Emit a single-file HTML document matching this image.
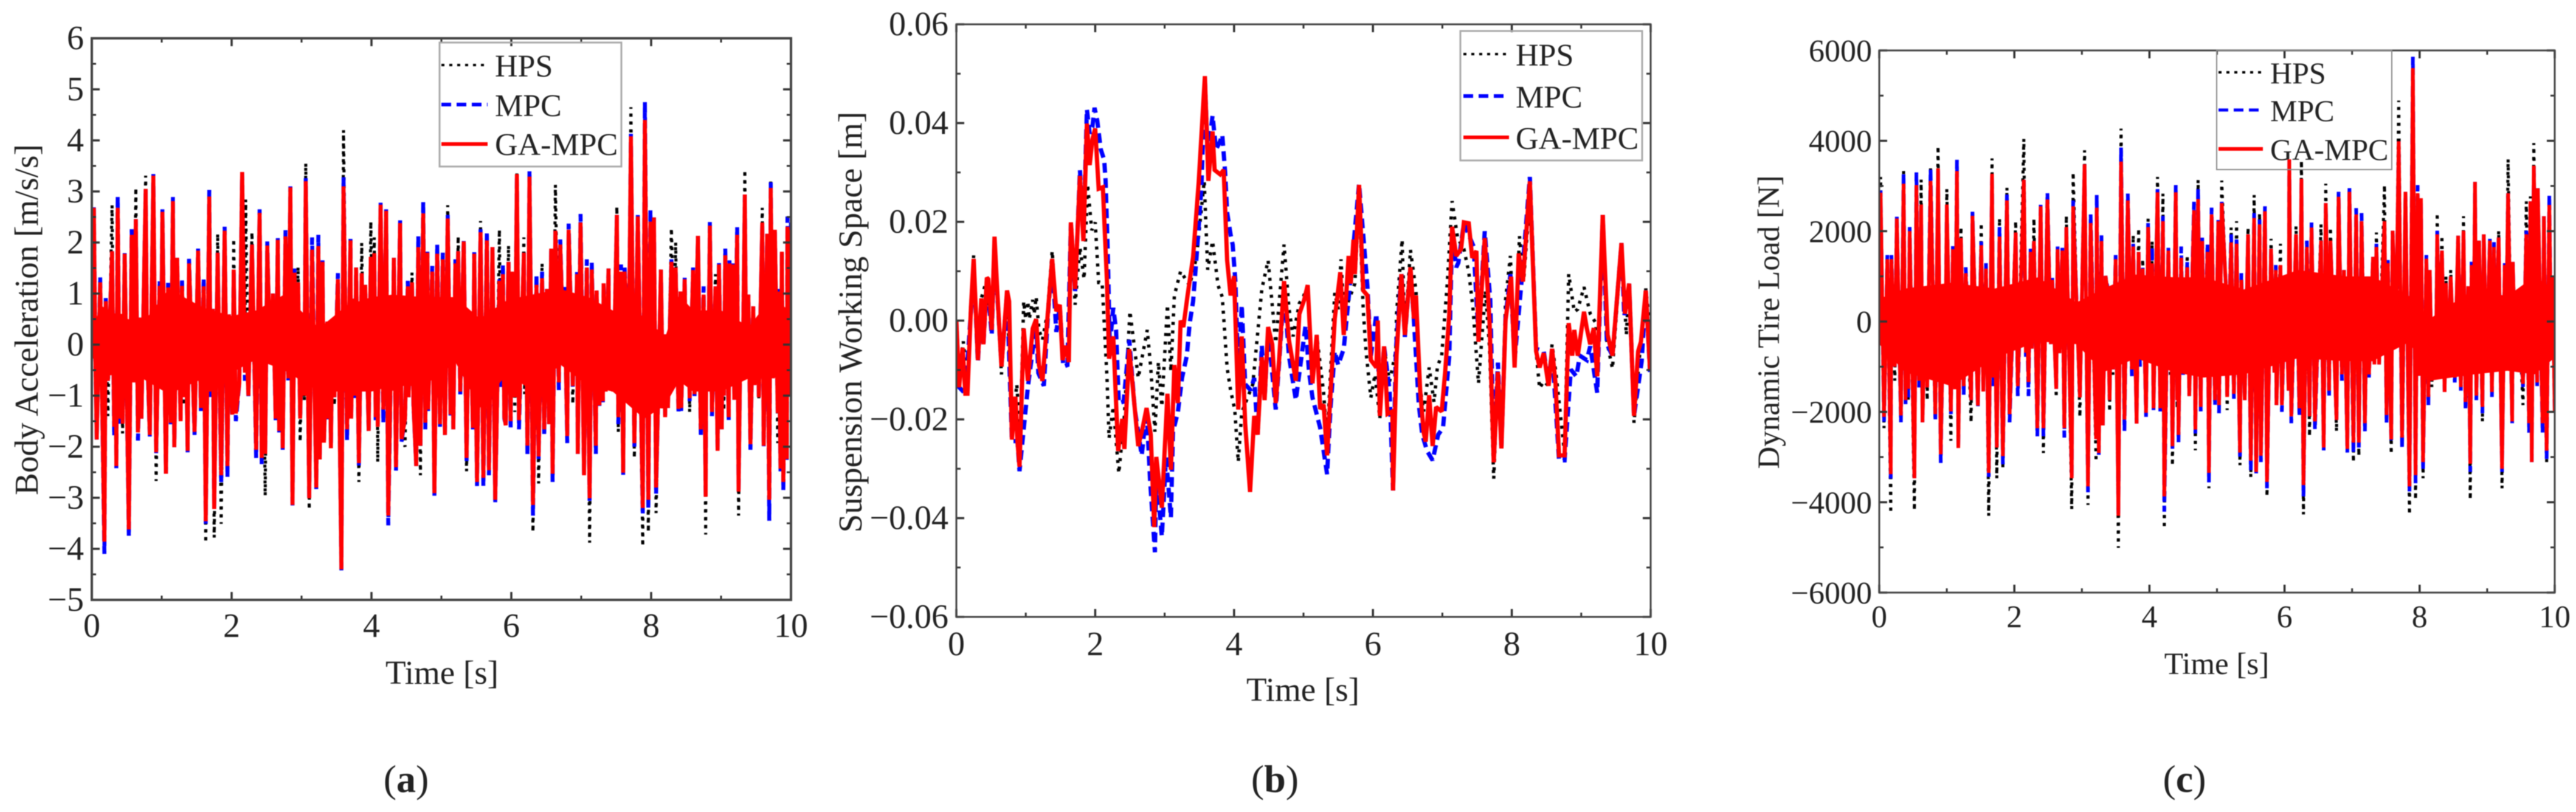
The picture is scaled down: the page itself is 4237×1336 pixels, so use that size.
<!DOCTYPE html>
<html lang="en">
<head>
<meta charset="utf-8">
<title>Body acceleration, suspension working space and dynamic tire load</title>
<style>
html,body{margin:0;padding:0;background:#fff;width:4237px;height:1336px;overflow:hidden}
svg{display:block;filter:blur(0.9px)}
text{font-family:"Liberation Serif",serif;fill:#222}
.tick{font-size:56px}
.tickc{font-size:52px}
.title{font-size:55px}
.titlec{font-size:51px}
.leg{font-size:52px}
.legc{font-size:50px}
.cap{font-size:64px}
</style>
</head>
<body>
<svg id="figure" xmlns="http://www.w3.org/2000/svg" width="4237" height="1336" viewBox="0 0 4237 1336">
<rect width="4237" height="1336" fill="#fff"/>
<defs>
<clipPath id="clipA"><rect x="151" y="63" width="1150" height="924"/></clipPath>
<clipPath id="clipB"><rect x="1573" y="40" width="1142" height="975"/></clipPath>
<clipPath id="clipC"><rect x="3091" y="83" width="1111" height="892"/></clipPath>
</defs>

<g id="panelA"></g>
<g id="panelB"></g>
<g id="panelC"></g>

<text class="title" text-anchor="middle" transform="translate(62 526) rotate(-90)">Body Acceleration [m/s/s]</text>
<text class="title" text-anchor="middle" x="727" y="1125">Time [s]</text>
<text class="cap" text-anchor="middle" x="668" y="1303">(<tspan font-weight="bold">a</tspan>)</text>

<text class="title" text-anchor="middle" transform="translate(1417 530) rotate(-90)">Suspension Working Space [m]</text>
<text class="title" text-anchor="middle" x="2143" y="1153">Time [s]</text>
<text class="cap" text-anchor="middle" x="2097" y="1303">(<tspan font-weight="bold">b</tspan>)</text>

<text class="titlec" text-anchor="middle" transform="translate(2926 530) rotate(-90)">Dynamic Tire Load [N]</text>
<text class="titlec" text-anchor="middle" x="3646" y="1109">Time [s]</text>
<text class="cap" text-anchor="middle" x="3593" y="1303">(<tspan font-weight="bold">c</tspan>)</text>

<g>
<rect x="723" y="70" width="299" height="204" fill="none" stroke="#aaa" stroke-width="3"/>
<line x1="726" x2="802" y1="107" y2="107" stroke="#000" stroke-width="4" stroke-dasharray="5 8"/>
<line x1="726" x2="802" y1="172" y2="172" stroke="#00f" stroke-width="6" stroke-dasharray="16 9"/>
<line x1="726" x2="802" y1="237" y2="237" stroke="#f00" stroke-width="6"/>
<text class="leg" x="814" y="126">HPS</text>
<text class="leg" x="814" y="191">MPC</text>
<text class="leg" x="814" y="255">GA-MPC</text>
</g>
<g>
<rect x="2402" y="51" width="299" height="213" fill="none" stroke="#aaa" stroke-width="3"/>
<line x1="2407" x2="2482" y1="89" y2="89" stroke="#000" stroke-width="4" stroke-dasharray="5 8"/>
<line x1="2407" x2="2482" y1="158" y2="158" stroke="#00f" stroke-width="6" stroke-dasharray="16 9"/>
<line x1="2407" x2="2482" y1="226" y2="226" stroke="#f00" stroke-width="6"/>
<text class="leg" x="2493" y="108">HPS</text>
<text class="leg" x="2493" y="177">MPC</text>
<text class="leg" x="2493" y="245">GA-MPC</text>
</g>

<g id="legendC">
<rect x="3646" y="83" width="288" height="196" fill="none" stroke="#888" stroke-width="2"/>
<line x1="3649" x2="3722" y1="119" y2="119" stroke="#000" stroke-width="4" stroke-dasharray="5 8"/>
<line x1="3649" x2="3722" y1="181" y2="181" stroke="#00f" stroke-width="5" stroke-dasharray="16 9"/>
<line x1="3649" x2="3722" y1="245" y2="245" stroke="#f00" stroke-width="6"/>
<text class="legc" x="3734" y="137">HPS</text>
<text class="legc" x="3734" y="199">MPC</text>
<text class="legc" x="3734" y="263">GA-MPC</text>
</g>
</svg>

<script>
/* ---------- Panel (a): body acceleration, m/s/s ---------- */
const timeA = [
0,.03,.05,.07,.12,.18,.20,.23,.29,.32,
.34,.35,.37,.40,.42,.44,.47,.53,.57,.60,
.63,.66,.70,.71,.77,.79,.83,.88,.92,.97,
.99,1.01,1.06,1.09,1.13,1.16,1.18,1.22,1.27,1.29,
1.32,1.34,1.37,1.39,1.44,1.47,1.52,1.56,1.60,1.63,
1.68,1.70,1.73,1.75,1.80,1.85,1.90,1.94,1.96,2.01,
2.03,2.06,2.11,2.15,2.19,2.20,2.24,2.29,2.35,2.40,
2.43,2.45,2.48,2.51,2.55,2.59,2.63,2.66,2.68,2.71,
2.73,2.77,2.81,2.84,2.87,2.90,2.92,2.95,2.98,3.01,
3.04,3.06,3.11,3.15,3.21,3.24,3.26,3.30,3.32,3.37,
3.38,3.40,3.42,3.44,3.47,3.52,3.57,3.60,3.65,3.70,
3.71,3.74,3.76,3.78,3.82,3.86,3.89,3.91,3.96,3.99,
4.02,4.04,4.06,4.08,4.09,4.13,4.17,4.21,4.24,4.29,
4.30,4.32,4.35,4.41,4.43,4.48,4.52,4.53,4.58,4.60,
4.64,4.67,4.70,4.74,4.77,4.80,4.81,4.87,4.90,4.94,
4.98,5.02,5.05,5.09,5.13,5.15,5.17,5.20,5.22,5.24,
5.27,5.32,5.36,5.39,5.41,5.42,5.45,5.47,5.51,5.56,
5.60,5.65,5.68,5.73,5.77,5.83,5.85,5.88,5.90,5.92,
5.96,5.99,6.01,6.05,6.08,6.11,6.18,6.19,6.21,6.23,
6.26,6.31,6.36,6.39,6.44,6.47,6.51,6.54,6.57,6.59,
6.63,6.68,6.70,6.75,6.76,6.80,6.82,6.88,6.90,6.92,
6.94,6.95,6.99,7.04,7.08,7.12,7.15,7.21,7.22,7.26,
7.28,7.31,7.32,7.35,7.39,7.40,7.44,7.46,7.51,7.53,
7.57,7.60,7.62,7.68,7.71,7.76,7.81,7.88,7.91,7.96,
7.99,8.02,8.04,8.07,8.14,8.17,8.19,8.20,8.22,8.24,
8.29,8.33,8.35,8.39,8.42,8.43,8.48,8.50,8.54,8.55,
8.60,8.62,8.67,8.71,8.75,8.78,8.79,8.82,8.84,8.87,
8.92,8.95,8.97,9.01,9.02,9.04,9.06,9.11,9.12,9.15,
9.17,9.19,9.23,9.25,9.28,9.31,9.34,9.36,9.39,9.42,
9.46,9.48,9.53,9.54,9.59,9.61,9.66,9.68,9.69,9.71,
9.74,9.77,9.81,9.82,9.85,9.87,9.89,9.92,9.94,9.95,
9.99,10];
const gaA = [
0,2.68,-.23,-1.86,1.22,-3.86,.85,-.71,1.83,-1.61,
.3,-2.38,2.68,-1.45,.6,-1.55,1.78,-3.62,2.15,-.74,
2.46,-1.72,.53,-1.45,3.05,0,-1.77,3.31,-2.11,1.15,
-.3,2.6,-2.53,1.12,-1.53,2.81,-2.01,1.7,-1.5,1.15,
-1.03,.7,-2.08,1.59,-.4,-1.71,1.84,-1.24,1.14,-3.46,
2.9,-.92,.7,-3.22,1.8,-2.56,2.23,-2.38,.59,-1.37,
1.47,-1.35,-.76,3.38,-.55,.4,-1,1.96,-2.06,2.58,
-2.22,.6,-2.14,1.94,-.29,1,-1.45,2.05,-1.69,.8,
-2.03,2.12,-.66,3.08,-3.14,1.41,-.3,1.22,-1.45,.15,
-1,3.2,-3.01,1.86,-2.8,1.93,-2.25,1.62,-1.92,.45,
-1.45,.4,-2.03,.15,-1.03,1.28,-4.4,3.1,-1.66,2.04,
-1.45,.9,-1,1.51,-2.32,1.4,-.44,1.17,-1.69,1.72,
-.1,1.79,-1.42,.2,-1.61,2.74,-1.27,2.62,-3.35,.5,
-.9,1.7,-2.4,2.38,-1.85,-1.45,1.14,-1.03,1.22,-1.16,
-2.38,1.91,-1.98,2.57,-1.53,1.8,-1.27,1.43,-2.91,1.78,
-1.56,1.67,-1.77,2.47,-1.37,.9,-1.66,1.59,-.31,1.83,
-.92,2.02,-2.22,.46,-.3,.4,-1.63,1.78,-2.69,2.2,
-2.61,2.04,-2.46,1.91,-3.04,1.25,-.66,1.38,-1.42,-1.58,
1.62,-1.5,1.43,-1.03,3.34,-1.48,1.8,-.6,.9,-1.98,
3.29,-3.14,1.17,-2.19,1.3,-1.66,1.09,-1.56,1.88,-2.53,
2.23,-.74,1.96,-.34,1.06,-1.79,2.25,-.81,.77,-.2,
1.38,-2.14,2.39,-2.56,1.51,-3.01,1.47,-1.98,1.06,-1.19,
.75,-1.11,1.2,-.92,1.49,-.55,.6,-.92,2.54,-1.42,
1.43,-2.51,1.43,-.18,4.08,-1.93,2.51,-3.2,4.4,-3.04,
2.41,-.5,2.49,-2.8,1.47,-1.25,.2,-1.42,.05,-1.24,
1.62,.08,1.51,-1.26,1.04,-1.24,1.28,-.76,.53,-1.05,
1.46,-.97,2.13,-1.66,.98,-2.98,.61,-.3,2.33,-1.32,
1.14,-2.08,1.57,-1.66,.4,-1,1.75,-1.42,1.59,-.6,
1.57,-1.08,2.15,-2.88,.4,-.5,2.94,-.52,.98,-1.95,
.75,-.79,.38,-1.03,2.39,-1.98,2.17,-1.71,-3.04,3.07,
-.66,2.25,-1.34,1.04,-2.43,1.82,-2.69,.5,-2.24,2.31,
-1,2.25];
const mpcA = [
0,2.73,-.23,-1.86,1.33,-4.1,.93,-.71,1.83,-1.79,
.3,-2.42,2.89,-1.55,.6,-1.55,1.81,-3.76,2.26,-.74,
2.46,-1.88,.53,-1.45,3.05,-.1,-1.8,3.34,-2.14,1.26,
-.3,2.65,-2.53,1.21,-1.56,2.89,-2.01,1.7,-1.5,1.3,
-1.03,.7,-2.11,1.68,-.4,-1.77,1.88,-1.3,1.3,-3.51,
3.03,-1.03,.7,-3.22,1.8,-2.74,2.31,-2.59,.59,-1.37,
1.47,-1.5,-.76,3.38,-.71,.4,-1.01,1.96,-2.22,2.65,
-2.34,.6,-2.14,2.02,-.34,1,-1.48,2.12,-1.72,.8,
-2.06,2.24,-.7,3.1,-3.15,1.49,-.3,1.22,-1.45,.15,
-1,3.26,-3.04,2.1,-2.83,2.15,-2.25,1.65,-1.92,.45,
-1.48,.4,-2.03,.15,-1.03,1.4,-4.42,3.28,-1.87,2.07,
-1.45,.9,-1.08,1.51,-2.4,1.4,-.63,1.17,-1.72,1.72,
-.1,1.79,-1.48,.2,-1.63,2.78,-1.53,2.65,-3.54,.5,
-.9,1.7,-2.48,2.46,-1.9,-1.45,1.25,-1.03,1.22,-1.19,
-2.38,2.12,-1.98,2.79,-1.66,1.82,-1.3,1.54,-2.96,1.96,
-1.61,1.8,-1.77,2.54,-1.42,.9,-1.66,1.67,-.31,1.83,
-1.02,2.06,-2.31,.53,-.3,.48,-1.66,1.81,-2.77,2.26,
-2.77,2.21,-2.56,1.91,-3.12,1.28,-.84,1.57,-1.45,-1.58,
1.62,-1.66,1.43,-1.03,3.34,-1.66,1.8,-.6,.9,-2.16,
3.41,-3.35,1.38,-2.24,1.43,-1.79,1.09,-1.56,1.88,-2.69,
2.23,-.89,2.06,-.34,1.13,-1.93,2.37,-.87,.77,-.2,
1.42,-2.14,2.56,-2.56,1.67,-3.09,1.61,-2.14,1.06,-1.24,
.75,-1.13,1.21,-.92,1.49,-.55,.6,-.92,2.54,-1.56,
1.57,-2.55,1.54,-.31,4.13,-2,2.58,-3.33,4.75,-3.22,
2.63,-.5,2.49,-2.93,1.47,-1.25,.2,-1.42,.03,-1.24,
1.67,-.05,1.51,-1.34,1.04,-1.3,1.31,-.76,.59,-1.11,
1.51,-1.05,2.13,-1.81,1.14,-3.01,.69,-.3,2.42,-1.4,
1.14,-2.11,1.63,-1.66,.4,-1,1.88,-1.5,1.65,-.6,
1.59,-1.08,2.3,-2.9,.4,-.5,2.94,-.52,.98,-2.06,
.75,-.79,.38,-1.03,2.39,-2,2.17,-1.9,-3.45,3.18,
-.66,2.25,-1.34,1.09,-2.51,1.82,-2.85,.5,-2.3,2.51,
-1,2.45];
const hpsA = [
0,2.6,-.2,-1.7,1.2,-3.7,.8,-1.4,2.73,-1.6,
.3,-2.2,2.6,-1.4,.6,-1.74,1.7,-3.5,2.1,-.7,
3.07,-1.6,.5,-1.4,3.31,0,-1.7,3.2,-2.67,1.1,
-.3,2.5,-2.4,1.1,-1.5,2.7,-1.9,1.6,-1.4,1.1,
-1.19,.7,-2,1.5,-.4,-1.7,1.8,-1.2,1.1,-3.88,
2.8,-.9,.7,-3.78,2.17,-3.51,2.1,-2.3,.6,-1.3,
2.07,-1.3,-.7,3.3,-.5,2.84,-.9,2.2,-2,2.5,
-2.1,.6,-2.96,1.9,-.3,1,-1.4,2,-1.6,.8,
-2,2.1,-.6,3,-3,1.4,-.3,1.52,-1.9,.15,
-1.1,3.55,-3.23,1.8,-2.7,1.9,-2.2,1.6,-1.9,.45,
-1.4,.4,-2,.15,-1.19,1.2,-4.42,4.2,-1.6,2,
-1.4,.9,-1,1.5,-2.69,1.99,-.4,1.1,-1.6,2.41,
-.1,2.1,-1.4,.2,-2.3,2.7,-1.2,2.6,-3.3,.5,
-.9,1.6,-2.3,2.3,-1.8,-2,1.1,-1,1.41,-1.1,
-2.3,1.9,-2.56,2.5,-1.5,1.7,-1.2,1.4,-2.9,1.7,
-1.5,1.67,-1.7,2.73,-1.3,.9,-1.6,1.5,-.3,2.12,
-.9,2,-2.48,.4,-.3,.4,-1.6,1.7,-2.6,2.42,
-2.5,2,-2.4,1.9,-3,2.25,-.6,1.3,-1.4,-1.5,
1.94,-1.4,1.4,-1.32,3.39,-1.4,2.1,-.97,.9,-1.9,
3.2,-3.67,1.1,-2.72,1.59,-1.6,1,-1.5,1.8,-2.5,
3.13,-.7,1.9,-.3,1,-1.7,2.2,-1.16,.7,-.2,
1.3,-2.1,2.3,-2.5,1.5,-3.88,1.4,-1.9,1,-1.1,
.7,-1.1,1.1,-.9,1.4,-.5,.6,-.9,2.7,-1.71,
1.4,-2.5,1.4,-.2,4.65,-2.22,2.5,-3.95,4.3,-3.67,
2.4,-.5,2.4,-3.3,1.4,-1.2,.2,-1.4,.05,-1.2,
2.28,.1,2,-1.2,1,-1.2,1.2,-.7,.5,-1.32,
1.4,-.9,2.1,-1.6,.9,-3.72,.6,-.3,2.3,-1.3,
1.38,-2,1.5,-1.6,.4,-1.29,1.7,-1.4,1.5,-.6,
1.5,-1,2.1,-3.35,.4,-.5,3.42,-.5,.9,-1.9,
.7,-.7,.3,-1.05,2.68,-2.03,2.1,-1.7,-3,3.23,
-.6,2.2,-1.93,1,-2.4,1.8,-2.6,.5,-2.2,2.3,
-1,2.2];
/* Solid high-frequency core of the GA-MPC trace, read as an envelope */
const coreTimeA = [0,.12,.4,.72,1.1,1.6,2.0,2.35,2.75,3.25,3.65,4.0,4.3,4.75,5.2,5.55,5.95,6.3,6.7,7.1,7.45,7.9,8.2,8.4,8.6,9.0,9.4,9.75,10];
const coreUpperA = [.2,.77,.56,.4,1.09,.72,.56,.67,.98,.32,.77,.93,.98,.93,.93,.51,.88,.98,1.09,.93,.67,.56,.14,.98,.67,.67,.35,.98,.6];
const coreLowerA = [-.2,-.66,-.55,-.66,-.97,-.66,-.55,-.29,-.5,-.92,-.92,-.92,-.81,-.81,-.34,-1.24,-.55,-.92,-.39,-.81,-.92,-1.45,-1.19,-.71,-.92,-.92,-.66,-.66,-.5];

/* ---------- Panel (b): suspension working space, values in mm ---------- */
const timeGaB = [0,.04,.09,.13,.16,.21,.25,.31,.36,.39,.44,.46,.51,.55,.59,.65,.73,.76,.80,.85,.88,.91,.97,1.03,1.10,1.15,1.19,1.24,1.32,1.38,1.44,1.49,1.53,1.58,1.62,1.65,1.71,1.78,1.83,1.88,1.92,1.96,2.00,2.05,2.11,2.17,2.20,2.26,2.33,2.39,2.42,2.49,2.62,2.68,2.74,2.80,2.85,2.88,2.96,3.04,3.09,3.14,3.19,3.23,3.27,3.33,3.41,3.49,3.58,3.63,3.69,3.72,3.80,3.85,3.90,3.95,4.00,4.06,4.11,4.16,4.23,4.29,4.34,4.40,4.44,4.49,4.55,4.60,4.65,4.72,4.79,4.89,4.94,5.01,5.06,5.13,5.19,5.24,5.29,5.34,5.39,5.45,5.53,5.58,5.65,5.68,5.72,5.74,5.80,5.86,5.92,5.97,6.05,6.07,6.10,6.16,6.21,6.28,6.29,6.34,6.41,6.46,6.54,6.59,6.62,6.68,6.73,6.76,6.81,6.86,6.91,6.99,7.04,7.10,7.14,7.20,7.27,7.31,7.38,7.43,7.49,7.52,7.61,7.68,7.74,7.80,7.85,7.91,7.99,8.04,8.10,8.16,8.26,8.35,8.40,8.46,8.53,8.58,8.63,8.68,8.76,8.82,8.87,8.90,8.95,9.04,9.08,9.13,9.18,9.23,9.31,9.38,9.45,9.58,9.63,9.69,9.76,9.82,9.86,9.93,9.99];
const gaMmB = [0,-13.5,-5.5,-14.8,-14.8,2.6,12.5,-8,4.5,-4.8,8.7,8.4,-1.9,17,5.8,-9.3,6.1,3.9,-24.1,-15.4,-24.4,-29.6,-1.6,-12.2,-1.6,.3,-9,-12.2,1.9,12.5,1.9,3.2,-8,-5.1,-8.4,19.9,6.4,29.3,16.1,39.9,31.5,36.7,38.9,26.7,27,7.7,-7.7,-3.2,-26.4,-19.9,-26,-5.8,-25.4,-21.9,-17.7,-23.1,-41.8,-27.6,-37.9,-14.8,-30.2,-9,-16.7,0,-1.3,5.1,12.9,28,49.5,28.3,38.3,30.5,29.6,30.5,12.2,5.1,9,-18,-3.2,-20.9,-34.7,-19.3,-23.1,-7.4,-16.1,-1.3,-4.8,-16.7,-7.7,8,-3.9,-12.2,1.3,4.2,7.2,-12.7,-2.9,-17.9,-17,-27.3,-14.6,.4,9.8,-2.9,13.1,7.5,16.4,9.4,27.5,6.1,5.1,-8,-9.5,0,-19.3,-5.2,-18.9,-18.4,-34.4,-7.1,9.4,-2.9,10.8,.4,5.1,-14.2,-22.6,-24.5,-15.1,-25.4,-17.5,-18.4,-10.4,1.4,19,13.1,14.5,19.9,19.7,12.7,14.1,-4.3,16.7,-.5,-28.7,-10.4,-25.9,0,8.9,-9.5,13.6,7.9,28.2,-6.2,-9.5,-6.6,-13.2,-5.7,-12.7,-27.3,-27.3,-.5,-7.1,-1.9,-7.1,1.8,-1.5,-4.8,-1.5,-11.3,21.4,-2.9,-7.1,15.7,1.4,7.5,-19.3,-6.2,-4.3,6.1,-9.9];
const timeMpcB = [0,.04,.13,.21,.25,.31,.36,.39,.44,.51,.55,.59,.65,.73,.80,.88,.91,1.03,1.15,1.18,1.26,1.32,1.38,1.44,1.49,1.54,1.60,1.65,1.71,1.78,1.83,1.88,1.92,1.96,1.99,2.03,2.08,2.13,2.15,2.18,2.21,2.26,2.30,2.34,2.41,2.49,2.57,2.67,2.74,2.79,2.86,2.88,2.96,3.02,3.09,3.12,3.19,3.25,3.32,3.36,3.41,3.46,3.53,3.58,3.62,3.69,3.74,3.79,3.83,3.87,3.90,3.95,3.98,4.02,4.06,4.11,4.16,4.24,4.29,4.34,4.40,4.44,4.49,4.60,4.65,4.72,4.79,4.89,5.03,5.08,5.13,5.24,5.34,5.39,5.45,5.50,5.58,5.66,5.80,5.92,5.97,6.05,6.10,6.16,6.24,6.29,6.33,6.41,6.46,6.54,6.59,6.66,6.71,6.78,6.86,6.94,7.01,7.10,7.14,7.20,7.23,7.31,7.45,7.52,7.61,7.69,7.74,7.80,7.85,7.91,7.98,8.04,8.14,8.26,8.35,8.46,8.53,8.58,8.68,8.76,8.85,8.93,8.98,9.08,9.13,9.23,9.31,9.37,9.45,9.58,9.62,9.69,9.76,9.87,9.93,9.99];
const mpcMmB = [-.6,-13.5,-14.8,1.9,11.6,-8.4,3.9,-5.1,8.4,-2.9,16.1,5.1,-9,5.8,-24.4,-24.4,-30.5,-13.5,-.6,-10.6,-13.2,1.3,12.2,-2.3,2.9,-9.3,-9,19.6,5.8,30.5,16.7,42.8,37.9,39.2,43.1,40.5,34.7,32.5,28.3,14.1,-5.1,2.6,-1.9,-16.7,-16.4,-3.9,-18,-27.3,-18,-32.2,-46.9,-30.9,-43.7,-27.6,-39.9,-22.5,-18.6,-11.6,-7.1,-.6,3.9,12.9,27,48.9,33.4,41.5,34.7,36,37.6,30.2,21.9,17.4,15.4,7.7,-11.6,3.2,-12.9,-14.1,-11.6,-23.1,-5.1,-16.1,-1.9,-18,-8.4,6.4,-7.1,-16.1,-1,-10.4,-15.6,-21.7,-31.1,-17.5,-6.2,-9,-5.7,6.1,27.7,7,-7.1,1.4,-17.5,-5.2,-14.2,-34.4,-6.2,9.8,-3.3,10.8,0,-17,-23.1,-26.4,-28.3,-23.1,-21.7,-7.1,17.8,10.8,11.7,19.7,15,-3.3,18.1,4.2,-26.9,-8.5,-25.9,.7,9.4,-8,7.9,29.1,-5.7,-6.2,-12.7,-5.7,-28.3,-28.3,-9.9,-11.3,-7.1,-8,-5.2,-14.6,21.4,-4.8,-7.1,15.7,.9,7.5,-19.3,-8.3,6.1,-10.4];
const timeHpsB = [0,.04,.10,.16,.21,.25,.31,.36,.44,.51,.55,.59,.65,.73,.80,.87,.92,.97,1.00,1.03,1.05,1.10,1.12,1.15,1.19,1.24,1.31,1.38,1.44,1.49,1.53,1.58,1.62,1.66,1.71,1.78,1.84,1.89,1.95,2.00,2.05,2.10,2.17,2.20,2.26,2.34,2.42,2.50,2.62,2.75,2.80,2.86,2.91,2.96,3.04,3.09,3.14,3.23,3.36,3.46,3.57,3.62,3.69,3.77,3.83,3.90,3.95,4.01,4.06,4.11,4.27,4.40,4.49,4.60,4.72,4.79,4.85,4.94,5.00,5.06,5.13,5.19,5.29,5.34,5.39,5.45,5.50,5.54,5.58,5.74,5.80,5.86,5.90,5.97,6.03,6.10,6.16,6.24,6.33,6.34,6.42,6.46,6.54,6.62,6.68,6.73,6.81,6.88,6.93,6.99,7.07,7.14,7.22,7.31,7.38,7.44,7.52,7.62,7.68,7.74,7.80,7.85,7.91,7.98,8.04,8.11,8.17,8.26,8.35,8.40,8.46,8.53,8.58,8.64,8.71,8.76,8.82,8.90,8.95,9.04,9.13,9.21,9.23,9.31,9.37,9.45,9.58,9.65,9.69,9.76,9.86,9.93,9.99];
const hpsMmB = [0,-11.6,-4.2,-12.9,3.9,13.2,-8,4.5,8.4,-1.9,16.7,5.1,-10.9,6.1,-23.1,-12.9,-23.1,3.9,.3,3.9,.3,4.2,1.3,4.8,-1.9,-3.9,1.3,14.1,1.9,3.2,-8,-5.1,-8.4,19.3,3.2,14.8,8.4,27.6,18.3,19.9,7.7,7.7,-11.6,-23.8,-17.4,-30.9,-19.3,1.9,-11.6,-1.9,-9.6,-22.5,-8.4,-17.4,3.2,-10.3,5.1,10,7.1,12.9,28.3,10.3,16.1,7.1,4.8,-9.6,-14.1,-18,-28.6,-18.6,-12.9,6.4,12.2,-4.5,15.4,2.6,-3.2,3.5,4.9,7.2,-12.3,-2.9,-14.6,-24.5,-10.4,5.6,2.3,12.4,1.4,7.5,24.9,2.3,-6.2,-15.6,-10.9,-19.8,-5.7,-12.3,-6.2,1.4,16.4,-2.9,14.3,6.1,-13.7,-18.4,-9.5,-16.5,-9.2,-7.1,7.5,24.2,16.7,14.5,9.8,2.8,-12.7,6.1,-5.7,-32,-10.4,-25.9,4.2,13.1,-8,17.1,7.9,24.9,-6.2,-13.7,-12.3,-13.2,-4.8,-11.1,-20.3,-26.9,9.4,1.8,2.3,6.8,1.4,-.5,-11.3,21.1,-4.3,-9.7,15.5,-2.9,7.5,-20.7,-3.8,6.5,-1.5];

/* ---------- Panel (c): dynamic tire load, N ---------- */
const timeC = [
0,.02,.07,.12,.17,.18,.23,.26,.32,.36,
.39,.41,.43,.45,.52,.55,.59,.62,.64,.68,
.71,.76,.83,.87,.91,.95,.98,1.00,1.06,1.09,
1.12,1.15,1.17,1.21,1.25,1.28,1.36,1.38,1.46,1.51,
1.54,1.58,1.62,1.67,1.69,1.71,1.74,1.78,1.83,1.89,
1.93,2.02,2.05,2.14,2.17,2.18,2.21,2.24,2.26,2.29,
2.34,2.39,2.43,2.49,2.54,2.56,2.62,2.64,2.67,2.71,
2.74,2.77,2.85,2.87,2.97,3.04,3.09,3.13,3.21,3.22,
3.25,3.29,3.31,3.35,3.38,3.41,3.43,3.46,3.50,3.54,
3.58,3.63,3.68,3.74,3.76,3.81,3.84,3.86,3.90,3.95,
3.98,4.03,4.04,4.06,4.12,4.16,4.20,4.22,4.28,4.31,
4.32,4.34,4.39,4.41,4.42,4.43,4.47,4.50,4.56,4.59,
4.66,4.68,4.72,4.76,4.78,4.81,4.86,4.88,4.92,4.97,
5.02,5.03,5.07,5.13,5.15,5.21,5.25,5.29,5.34,5.36,
5.41,5.46,5.50,5.55,5.58,5.63,5.65,5.71,5.74,5.80,
5.85,5.87,5.88,5.94,5.96,6.01,6.06,6.07,6.10,6.17,
6.22,6.25,6.28,6.33,6.37,6.40,6.45,6.54,6.58,6.61,
6.66,6.68,6.77,6.80,6.85,6.88,6.93,6.96,7.02,7.06,
7.10,7.14,7.19,7.22,7.25,7.31,7.33,7.36,7.40,7.48,
7.51,7.53,7.58,7.60,7.65,7.69,7.74,7.79,7.85,7.90,
7.94,7.97,8.00,8.02,8.05,8.10,8.13,8.15,8.18,8.20,
8.24,8.26,8.29,8.33,8.37,8.39,8.42,8.46,8.52,8.57,
8.61,8.65,8.68,8.72,8.75,8.77,8.80,8.82,8.84,8.88,
8.93,8.95,8.99,9.04,9.07,9.10,9.12,9.17,9.22,9.26,
9.28,9.31,9.37,9.38,9.42,9.46,9.53,9.58,9.62,9.64,
9.66,9.69,9.74,9.75,9.82,9.84,9.88,9.92,9.95,9.97,
10];
const gaC = [
0,2850,-2110,1380,-3380,1380,-1000,2280,-2080,3050,
-1740,730,-1490,2000,-3470,3020,-1310,2590,-2230,550,
-1460,3110,-2050,3390,-2940,420,-440,2590,-1990,1600,
-1500,3330,-2800,1850,-1430,1070,-1740,2340,-1860,1690,
-1550,1170,-3350,3270,-1240,420,-2790,1880,-2980,2680,
-2050,1970,-1430,3140,-690,500,-1340,1540,-600,1780,
-2360,2550,-2360,2700,-500,920,-1490,1600,-700,1570,
-2360,2090,-3470,2550,-1680,3480,-3650,2180,-2600,2520,
-2910,1780,-2300,1010,670,-1740,300,-1060,1380,-4300,
3540,-2170,2680,-1060,1660,-2260,1540,-810,1170,-2020,
2090,-900,1290,-1920,2860,-1920,2220,-3870,1570,-940,
110,-2760,2860,-1740,200,-2510,1410,-1120,1200,-1650,
2460,-2390,2710,-1890,1780,-1000,1540,-3350,2370,-1740,
2220,-1850,2620,850,-1670,1750,-1600,1720,-2900,920,
-1740,1930,-3080,2290,-3330,2150,-2970,2440,-3550,1610,
-1130,1140,-1850,1250,-1850,1000,-1530,3590,-2100,1930,
-1920,3160,-3620,1650,-2100,2080,-2210,1790,-2790,2620,
-1530,1790,-2180,2760,-1170,1140,-2820,2870,-2680,2370,
-2680,2220,-2250,960,-1170,1430,-950,1650,-950,2220,
-2070,1290,-2610,2010,-300,3990,-2570,2870,-3650,5610,
-3400,2840,-1200,2730,-3110,1390,-1670,1140,-1310,100,
-1170,1930,-300,1570,-1560,850,-1200,1000,-1240,1900,
-1450,2010,-1780,780,-3150,1250,-500,3090,-1640,1790,
-1890,1930,-1000,1790,-1560,1650,-900,1860,-3260,1250,
-400,2840,-2210,1320,-1090,490,-1380,1930,-2250,2660,
-3110,3450,-1350,2950,-2250,2330,-2860,2580,-810,1000,
-2000];
const mpcC = [
0,2900,-2230,1470,-3530,1470,-1000,2370,-2230,3270,
-1830,730,-1680,2090,-3470,3300,-1460,2590,-2230,550,
-1460,3360,-2200,3390,-3130,420,-440,2590,-2050,1720,
-1500,3580,-2800,1850,-1620,1200,-1740,2430,-1920,1770,
-1550,1290,-3440,3270,-1430,420,-2790,2090,-3160,2820,
-2230,1970,-1650,3140,-780,500,-1650,1610,-600,1780,
-2540,2620,-2540,2850,-500,1010,-1490,1660,-700,1630,
-2570,2120,-3470,2680,-1680,3480,-3780,2370,-2600,2800,
-2950,1910,-2300,1010,760,-1740,300,-1060,1470,-4300,
3850,-2420,2830,-1210,1720,-2260,1540,-1000,1230,-2110,
2190,-900,1660,-1960,2930,-1990,2340,-4210,1630,-940,
110,-2850,3020,-1740,200,-2670,1660,-1180,1320,-1650,
2650,-2480,2930,-1990,1910,-1000,1720,-3560,2520,-1860,
2290,-2030,2650,850,-1670,1930,-1710,1860,-3040,1070,
-1740,1930,-3290,2400,-3400,2260,-3110,2550,-3690,1610,
-1130,1250,-1850,1250,-2000,1000,-1530,3590,-2250,1930,
-2100,3160,-3870,1790,-2100,2190,-2390,1790,-2860,2620,
-1670,1790,-2180,2870,-1310,1140,-2900,2980,-2900,2510,
-2790,2400,-2430,1030,-1240,1430,-950,1720,-950,2220,
-2250,1360,-2680,2010,-340,3990,-2820,2870,-3760,5860,
-3580,3020,-1200,2730,-3290,1470,-1850,1140,-1310,100,
-1170,2010,-340,1570,-1560,850,-1200,1000,-1350,1900,
-1530,2010,-1960,780,-3330,1360,-500,3090,-1740,1790,
-2030,1930,-1000,1830,-1670,1790,-900,1860,-3330,1290,
-400,2840,-2250,1320,-1090,490,-1450,2010,-2460,2660,
-3110,3450,-1450,2950,-2460,2330,-3040,2800,-810,1000,
-2000];
const hpsC = [
0,3200,-2360,1300,-4240,1300,-1310,2200,-2000,3340,
-1700,700,-1740,1950,-4180,2950,-1300,3140,-2200,500,
-1740,3390,-2000,3880,-2900,400,-970,2930,-2640,1550,
-1450,3300,-2750,2090,-1400,1050,-2230,2300,-1800,2180,
-1500,1150,-4300,3610,-1200,400,-3470,2280,-3250,2960,
-2000,2220,-1400,4040,-650,500,-1300,1500,-600,2280,
-2300,2500,-2910,2650,-500,900,-1680,1550,-700,1500,
-2300,2340,-4150,3300,-2110,3790,-4060,2150,-3100,2500,
-2900,1750,-2250,1000,650,-1990,300,-1180,1350,-5010,
4270,-2100,2650,-1050,1910,-2200,2060,-800,1380,-2000,
2280,-900,1780,-1900,3200,-1900,2830,-4580,1550,-1180,
110,-3190,2800,-1920,200,-2500,1400,-1100,1470,-1600,
2400,-2850,3130,-1850,1750,-1000,1500,-3690,2350,-1700,
2200,-1800,3120,800,-1960,2080,-1600,2220,-3180,900,
-1780,2080,-3440,2800,-3300,2400,-2950,2400,-3870,1830,
-1100,1100,-1800,1720,-1800,1000,-1500,3590,-2100,2110,
-1900,3560,-4270,1600,-2540,2050,-2200,2150,-2750,3050,
-1500,2080,-2430,2700,-1150,1100,-2800,2800,-3110,2300,
-2970,2200,-2200,950,-1150,1470,-950,1970,-950,3020,
-2000,1250,-2930,1950,-300,4890,-2550,2800,-4270,5500,
-3940,2800,-1200,2760,-3470,1350,-1650,1100,-1450,100,
-1240,2400,-300,1900,-1500,1000,-1200,1140,-1200,1850,
-1400,2330,-1750,750,-3940,1200,-500,3050,-1600,1750,
-2210,1900,-1000,1750,-1500,1600,-900,2010,-3690,1200,
-400,3590,-2200,1300,-1050,450,-1850,2660,-2200,2770,
-3100,3950,-1300,2900,-2200,2300,-3110,2550,-800,1000,
-2000];
const coreTimeC = [0,.38,1.07,1.71,2.35,2.92,3.32,3.8,4.36,4.8,5.4,6.2,6.9,7.3,7.85,8.15,8.8,9.3,9.7,10];
const coreUpperC = [500,730,860,730,980,420,730,1040,980,980,710,1140,1000,1000,560,60,710,560,1000,700];
const coreLowerC = [-500,-1120,-1430,-810,-440,-500,-1120,-810,-1120,-1240,-1170,-810,-880,-880,-450,-1310,-1170,-1090,-1170,-800];

/* ---------- Tick values and labels ---------- */
const xTickValues = [0,2,4,6,8,10];
const xTickLabels = ['0','2','4','6','8','10'];
const xMinorValues = [1,3,5,7,9];
const yTicksA = [-5,-4,-3,-2,-1,0,1,2,3,4,5,6];
const yLabelsA = ['\u22125','\u22124','\u22123','\u22122','\u22121','0','1','2','3','4','5','6'];
const yMinorA = [-4.5,-3.5,-2.5,-1.5,-.5,.5,1.5,2.5,3.5,4.5,5.5];
const yTicksB = [-60,-40,-20,0,20,40,60];
const yLabelsB = ['\u22120.06','\u22120.04','\u22120.02','0.00','0.02','0.04','0.06'];
const yMinorB = [-50,-30,-10,10,30,50];
const yTicksC = [-6000,-4000,-2000,0,2000,4000,6000];
const yLabelsC = ['\u22126000','\u22124000','\u22122000','0','2000','4000','6000'];
const yMinorC = [-5000,-3000,-1000,1000,3000,5000];

const SVGNS = 'http://www.w3.org/2000/svg';
function linear(d0, d1, r0, r1) {
  return function (v) { return r0 + (v - d0) / (d1 - d0) * (r1 - r0); };
}
function pathFrom(ts, vs, x, y) {
  let d = '';
  for (let i = 0; i < ts.length; i++) {
    d += (i ? 'L' : 'M') + x(ts[i]).toFixed(1) + ' ' + y(vs[i]).toFixed(1);
  }
  return d;
}
function bandFrom(ts, upper, lower, x, y) {
  let d = pathFrom(ts, upper, x, y);
  for (let i = ts.length - 1; i >= 0; i--) {
    d += 'L' + x(ts[i]).toFixed(1) + ' ' + y(lower[i]).toFixed(1);
  }
  return d + 'Z';
}
function drawLine(parent, x1, y1, x2, y2, width) {
  const el = document.createElementNS(SVGNS, 'line');
  
  
  el.setAttribute('x1', x1);
  el.setAttribute('y1', y1);
  el.setAttribute('x2', x2);
  el.setAttribute('y2', y2);
  el.setAttribute('stroke', '#333');
  el.setAttribute('stroke-width', width);
  parent.appendChild(el);
}
function drawLabel(parent, px, py, str, anchor, cls) {
  const el = document.createElementNS(SVGNS, 'text');
  
  
  el.setAttribute('x', px);
  el.setAttribute('y', py);
  el.setAttribute('text-anchor', anchor);
  el.setAttribute('class', cls);
  el.textContent = str;
  parent.appendChild(el);
}
function drawSeries(parent, d, color, width, dash, clip, seriesName) {
  const el = document.createElementNS(SVGNS, 'path');
  
  
  el.setAttribute('d', d);
  el.setAttribute('fill', 'none');
  el.setAttribute('stroke', color);
  el.setAttribute('stroke-width', width);
  el.setAttribute('stroke-linejoin', 'miter');
  el.setAttribute('stroke-miterlimit', '2');
  el.setAttribute('clip-path', 'url(#' + clip + ')');
  if (dash) el.setAttribute('stroke-dasharray', dash);
  parent.appendChild(el);
}
function drawCore(parent, d, clip) {
  const el = document.createElementNS(SVGNS, 'path');
  
  
  el.setAttribute('d', d);
  el.setAttribute('fill', '#f00');
  el.setAttribute('clip-path', 'url(#' + clip + ')');
  parent.appendChild(el);
}
function drawAxes(g, left, right, top, bottom, x, y, yTicks, yLabels, yMinor, cls, xLabelY, yLabelRight, axisW) {
  xTickValues.forEach(function (v, i) {
    drawLine(g, x(v), bottom, x(v), bottom - 13, 3.5);
    drawLine(g, x(v), top, x(v), top + 13, 3.5);
    drawLabel(g, x(v), xLabelY, xTickLabels[i], 'middle', cls);
  });
  xMinorValues.forEach(function (v) {
    drawLine(g, x(v), bottom, x(v), bottom - 7, 3);
    drawLine(g, x(v), top, x(v), top + 7, 3);
  });
  yTicks.forEach(function (v, i) {
    drawLine(g, left, y(v), left + 13, y(v), 3.5);
    drawLine(g, right, y(v), right - 13, y(v), 3.5);
    drawLabel(g, yLabelRight, y(v) + 18, yLabels[i], 'end', cls);
  });
  yMinor.forEach(function (v) {
    drawLine(g, left, y(v), left + 7, y(v), 3);
    drawLine(g, right, y(v), right - 7, y(v), 3);
  });
  const frame = document.createElementNS(SVGNS, 'rect');
  
  
  frame.setAttribute('x', left);
  frame.setAttribute('y', top);
  frame.setAttribute('width', right - left);
  frame.setAttribute('height', bottom - top);
  frame.setAttribute('fill', 'none');
  frame.setAttribute('stroke', '#444');
  frame.setAttribute('stroke-width', axisW);
  g.appendChild(frame);
}

/* Panel a */
(function () {
  const g = document.getElementById('panelA');
  const x = linear(0, 10, 151, 1301);
  const y = linear(-5, 6, 987, 63);
  drawSeries(g, pathFrom(timeA, hpsA, x, y), '#000', 5, '5 8', 'clipA', 'series-hps-a');
  drawSeries(g, pathFrom(timeA, mpcA, x, y), '#00f', 6.5, '18 8', 'clipA', 'series-mpc-a');
  drawCore(g, bandFrom(coreTimeA, coreUpperA, coreLowerA, x, y), 'clipA');
  drawSeries(g, pathFrom(timeA, gaA, x, y), '#f00', 6.5, '', 'clipA', 'series-ga-mpc-a');
  drawAxes(g, 151, 1301, 63, 987, x, y, yTicksA, yLabelsA, yMinorA, 'tick', 1048, 138, 4);
})();

/* Panel b */
(function () {
  const g = document.getElementById('panelB');
  const x = linear(0, 10, 1573, 2715);
  const y = linear(-60, 60, 1015, 40);
  drawSeries(g, pathFrom(timeHpsB, hpsMmB, x, y), '#000', 5.5, '5 9', 'clipB', 'series-hps-b');
  drawSeries(g, pathFrom(timeMpcB, mpcMmB, x, y), '#00f', 7, '16 9', 'clipB', 'series-mpc-b');
  drawSeries(g, pathFrom(timeGaB, gaMmB, x, y), '#f00', 7, '', 'clipB', 'series-ga-mpc-b');
  drawAxes(g, 1573, 2715, 40, 1015, x, y, yTicksB, yLabelsB, yMinorB, 'tick', 1078, 1560, 3);
})();

/* Panel c */
(function () {
  const g = document.getElementById('panelC');
  const x = linear(0, 10, 3091, 4202);
  const y = linear(-6000, 6000, 975, 83);
  drawSeries(g, pathFrom(timeC, hpsC, x, y), '#000', 5, '5 8', 'clipC', 'series-hps-c');
  drawSeries(g, pathFrom(timeC, mpcC, x, y), '#00f', 6, '18 8', 'clipC', 'series-mpc-c');
  drawCore(g, bandFrom(coreTimeC, coreUpperC, coreLowerC, x, y), 'clipC');
  drawSeries(g, pathFrom(timeC, gaC, x, y), '#f00', 6, '', 'clipC', 'series-ga-mpc-c');
  drawAxes(g, 3091, 4202, 83, 975, x, y, yTicksC, yLabelsC, yMinorC, 'tickc', 1032, 3079, 3);
})();
</script>
</body>
</html>
